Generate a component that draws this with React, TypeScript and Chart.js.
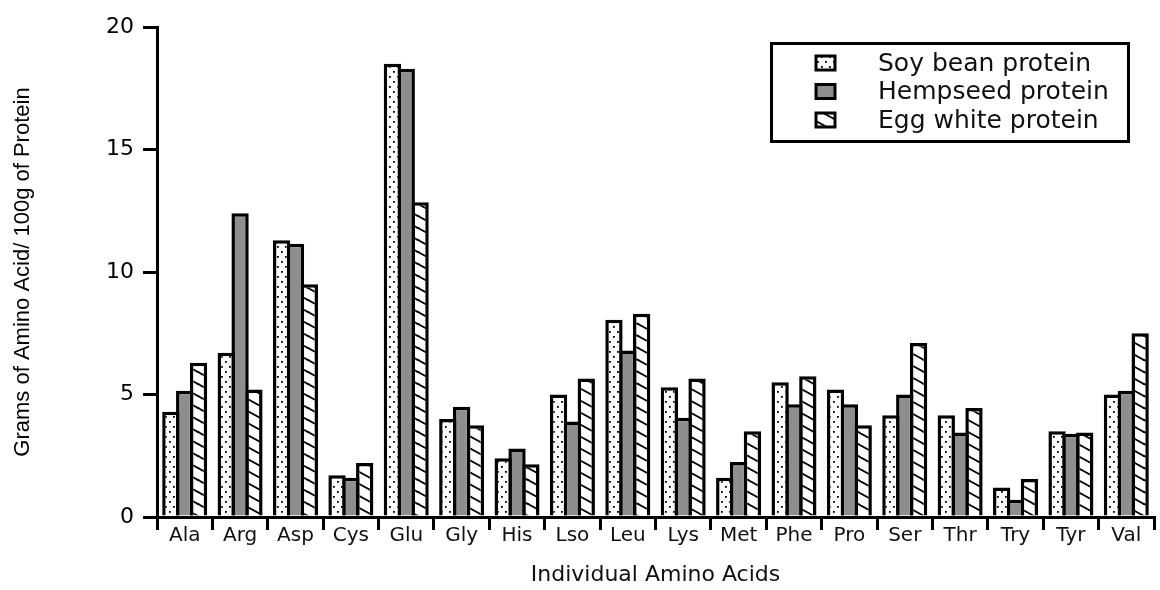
import React, { useEffect, useRef } from 'react';
import { Chart, registerables } from 'chart.js';

Chart.register(...registerables);

const categories = ['Ala', 'Arg', 'Asp', 'Cys', 'Glu', 'Gly', 'His', 'Lso', 'Leu', 'Lys', 'Met', 'Phe', 'Pro', 'Ser', 'Thr', 'Try', 'Tyr', 'Val'];
const soyBean = [4.3, 6.7, 11.3, 1.7, 18.5, 4.0, 2.4, 5.0, 8.05, 5.3, 1.6, 5.5, 5.2, 4.15, 4.15, 1.2, 3.5, 5.0];
const hempseed = [5.15, 12.4, 11.15, 1.6, 18.3, 4.5, 2.8, 3.9, 6.8, 4.05, 2.25, 4.6, 4.6, 5.0, 3.45, 0.7, 3.4, 5.15];
const eggWhite = [6.3, 5.2, 9.5, 2.2, 12.85, 3.75, 2.15, 5.65, 8.3, 5.65, 3.5, 5.75, 3.75, 7.1, 4.45, 1.55, 3.45, 7.5];
const seriesNames = ['Soy bean protein', 'Hempseed protein', 'Egg white protein'];
const yMin = 0;
const yMax = 20;
const yStep = 5;
const xTitle = 'Individual Amino Acids';
const yTitle = 'Grams of Amino Acid/ 100g of Protein';

const HEMP_GRAY = '#8e8e8e';

function makeDots(ctx: CanvasRenderingContext2D) {
  const c = document.createElement('canvas');
  c.width = 8;
  c.height = 10;
  const g = c.getContext('2d')!;
  g.fillStyle = '#fff';
  g.fillRect(0, 0, 8, 10);
  g.fillStyle = '#000';
  g.fillRect(1, 1, 1.8, 1.8);
  g.fillRect(5, 6, 1.8, 1.8);
  return ctx.createPattern(c, 'repeat')!;
}

function makeHatch(ctx: CanvasRenderingContext2D) {
  const w = 22;
  const h = 12;
  const c = document.createElement('canvas');
  c.width = w;
  c.height = h;
  const g = c.getContext('2d')!;
  g.fillStyle = '#fff';
  g.fillRect(0, 0, w, h);
  g.strokeStyle = '#000';
  g.lineWidth = 1.8;
  const shifts = [[0, 0], [-w, 0], [w, 0], [0, -h], [0, h]];
  for (const [dx, dy] of shifts) {
    g.beginPath();
    g.moveTo(dx - 2, dy - 2 * h / w);
    g.lineTo(dx + w + 2, dy + h + 2 * h / w);
    g.stroke();
  }
  return ctx.createPattern(c, 'repeat')!;
}

export default function App() {
  const ref = useRef<HTMLCanvasElement | null>(null);

  useEffect(() => {
    const canvas = ref.current!;
    const ctx = canvas.getContext('2d')!;
    const dots = makeDots(ctx);
    const hatch = makeHatch(ctx);
    const fills: (string | CanvasPattern)[] = [dots, HEMP_GRAY, hatch];

    const legendPlugin = {
      id: 'boxLegend',
      afterDraw(chart: any) {
        const c = chart.ctx as CanvasRenderingContext2D;
        c.save();
        c.lineWidth = 3;
        c.strokeStyle = '#000';
        c.strokeRect(771.5, 43.5, 357, 98);
        seriesNames.forEach((name, i) => {
          const cy = 63 + i * 28.5;
          c.fillStyle = fills[i] as any;
          c.fillRect(816, cy - 7, 19, 14);
          c.lineWidth = 3;
          c.strokeRect(816, cy - 7, 19, 14);
          c.fillStyle = '#111';
          c.font = '25px "DejaVu Sans"';
          c.textBaseline = 'middle';
          c.textAlign = 'left';
          c.fillText(name, 878, cy + 1);
        });
        c.restore();
      },
    };

    const mk = (label: string, data: number[], i: number) => ({
      label,
      data,
      backgroundColor: fills[i],
      borderColor: '#000',
      borderWidth: 3.5,
      borderSkipped: 'start' as const,
      categoryPercentage: 0.75,
      barPercentage: 1.25,
    });

    const chart = new Chart(canvas, {
      type: 'bar',
      data: {
        labels: categories,
        datasets: [
          mk(seriesNames[0], soyBean, 0),
          mk(seriesNames[1], hempseed, 1),
          mk(seriesNames[2], eggWhite, 2),
        ],
      },
      options: {
        animation: false,
        responsive: false,
        devicePixelRatio: 1,
        layout: { padding: { top: 27, right: 6, left: 0, bottom: 0 } },
        plugins: { legend: { display: false }, tooltip: { enabled: false } },
        scales: {
          x: {
            grid: { offset: true, drawOnChartArea: false, drawTicks: true, tickLength: 13, lineWidth: 3, color: '#000' },
            border: { display: true, width: 3, color: '#000' },
            ticks: { font: { family: 'DejaVu Sans', size: 20 }, color: '#111', padding: -6, maxRotation: 0, autoSkip: false },
            title: { display: true, text: xTitle, font: { family: 'DejaVu Sans', size: 22 }, color: '#111', padding: { top: 0, bottom: 2 } },
            afterFit: (s: any) => { s.height = 73; },
          },
          y: {
            min: yMin,
            max: yMax,
            grid: { drawOnChartArea: false, tickLength: 14, lineWidth: 3, color: '#000' },
            border: { display: true, width: 3, color: '#000' },
            ticks: { stepSize: yStep, font: { family: 'DejaVu Sans', size: 22 }, color: '#000', padding: 9 },
            title: { display: true, text: yTitle, font: { family: 'Liberation Sans', size: 22 }, color: '#000', padding: { top: 10, bottom: 0 } },
            afterFit: (s: any) => { s.width = 157; },
          },
        },
      },
      plugins: [legendPlugin],
    });
    return () => chart.destroy();
  }, []);

  return (
    <div style={{ position: 'absolute', left: 0, top: 0, width: 1160, height: 590, background: '#fff' }}>
      <canvas ref={ref} width={1160} height={590} style={{ display: 'block', width: 1160, height: 590 }} />
    </div>
  );
}
